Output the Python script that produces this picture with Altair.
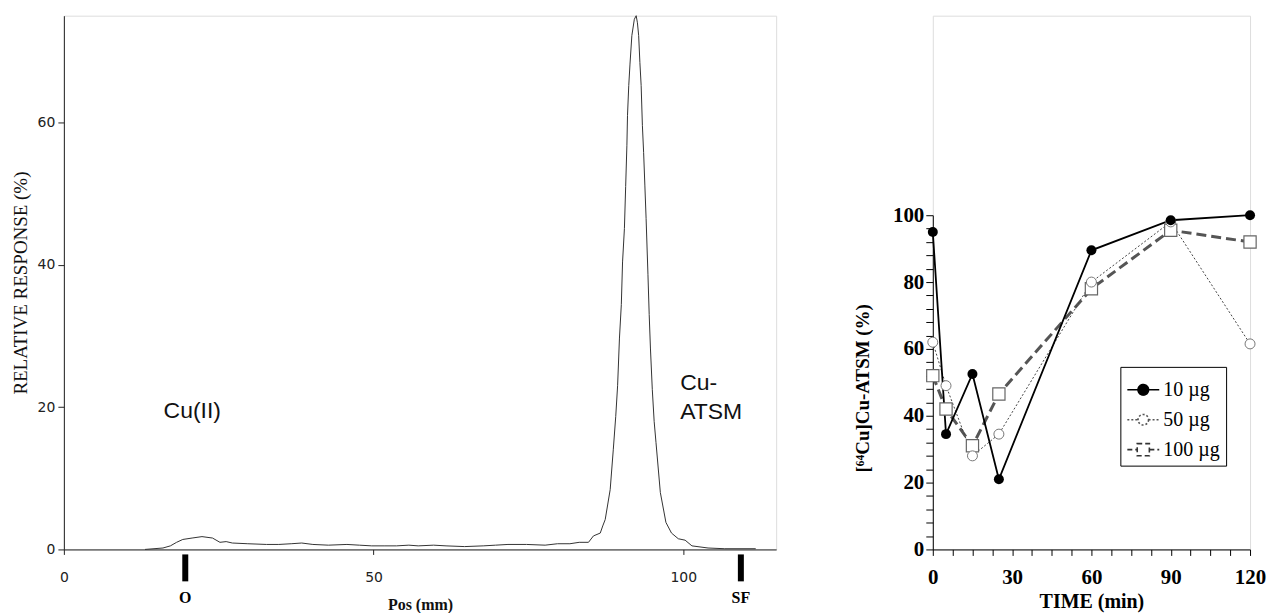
import altair as alt
import pandas as pd

# ---------------- Left panel: radio-TLC trace ----------------
pos_mm = [13.1, 16.0, 17.2, 18.2, 19.2, 20.7, 22.3, 24.0, 25.2, 26.2, 27.2, 29.7,
          32.7, 34.7, 36.7, 38.4, 40.2, 42.7, 45.7, 47.7, 49.7, 51.7, 53.7, 55.7,
          57.2, 59.7, 61.7, 64.7, 67.7, 69.7, 71.7, 74.7, 77.7, 79.7, 81.7, 83.2,
          84.7, 85.5, 86.6, 87.0, 87.4, 88.2, 88.7, 89.1, 89.4, 89.7, 90.0, 90.2,
          90.5, 90.7, 90.9, 91.0, 91.2, 91.4, 91.7, 92.1, 92.4, 92.6, 92.8, 93.0,
          93.2, 93.4, 93.6, 93.8, 94.0, 94.3, 94.5, 94.7, 95.0, 95.3, 95.6, 96.3,
          97.2, 98.1, 99.2, 100.3, 101.4, 104.0, 106.7, 111.7]
response = [0.0, 0.2, 0.5, 1.0, 1.4, 1.6, 1.8, 1.6, 1.0, 1.1, 0.9, 0.8,
            0.7, 0.7, 0.8, 0.9, 0.7, 0.6, 0.7, 0.6, 0.5, 0.5, 0.5, 0.6,
            0.5, 0.6, 0.5, 0.4, 0.5, 0.6, 0.7, 0.7, 0.6, 0.8, 0.8, 1.0,
            1.0, 1.9, 2.3, 3.3, 4.2, 8.4, 14.0, 18.7, 23.0, 29.7, 34.4, 40.4,
            45.1, 51.0, 56.8, 61.0, 65.2, 68.2, 72.2, 74.5, 75.0, 74.0, 72.2, 68.4,
            65.2, 59.6, 55.8, 51.2, 46.5, 38.6, 33.0, 28.3, 22.5, 18.0, 15.0, 8.0,
            3.8, 2.3, 1.5, 1.3, 0.5, 0.2, 0.1, 0.1]
marker_pos = [19.6, 109.3]
marker_lab = ["O", "SF"]
ann_text = ["Cu(II)", "Cu-", "ATSM"]
ann_pos = [16.1, 99.5, 99.5]
ann_val = [19.4, 23.4, 19.3]
left_xticks = [0, 50, 100]
left_yticks = [0, 20, 40, 60]

# ---------------- Right panel: time course ----------------
times = [0, 5, 15, 25, 60, 90, 120]
v10 = [95, 34.5, 52.5, 21, 89.5, 98.5, 100]
v50 = [62, 49, 28, 34.5, 80, 98, 61.5]
v100 = [52, 42, 31, 46.5, 78, 95.5, 92]
series = ["10 µg", "50 µg", "100 µg"]
right_xticks = [0, 7.5, 15, 22.5, 30, 37.5, 45, 52.5, 60, 67.5, 75, 82.5, 90,
                97.5, 105, 112.5, 120]
right_yticks = [0, 4, 8, 12, 16, 20, 24, 28, 32, 36, 40, 44, 48, 52, 56, 60,
                64, 68, 72, 76, 80, 84, 88, 92, 96, 100]

WL, H, WR = 714, 535, 318
SERIF = "Liberation Serif"

# ---- left chart ----
df_trace = pd.DataFrame({"pos": pos_mm, "resp": response})
df_mark = pd.DataFrame({"pos": marker_pos, "lab": marker_lab})
df_ann = pd.DataFrame({"pos": ann_pos, "resp": ann_val, "txt": ann_text})

xl = alt.X("pos:Q", scale=alt.Scale(domain=[0, 115], nice=False),
           axis=alt.Axis(values=left_xticks, title="Pos (mm)", grid=False,
                         domainColor="#222", tickColor="#222", tickSize=5,
                         labelFont="DejaVu Sans", labelFontSize=14, labelColor="#222",
                         labelPadding=16, labelFlush=False,
                         titleFont=SERIF, titleFontSize=16, titleFontWeight="bold",
                         titleColor="#111", titlePadding=12))
yl = alt.Y("resp:Q", scale=alt.Scale(domain=[0, 75], nice=False),
           axis=alt.Axis(values=left_yticks, title="RELATIVE RESPONSE (%)", grid=False,
                         domainColor="#222", tickColor="#222", tickSize=6,
                         labelFont="DejaVu Sans", labelFontSize=14, labelColor="#222",
                         labelPadding=3,
                         titleFont=SERIF, titleFontSize=19, titleFontWeight="normal",
                         titleColor="#111", titlePadding=7))

trace = alt.Chart(df_trace).mark_line(color="#333", strokeWidth=1).encode(x=xl, y=yl)
bars = alt.Chart(df_mark).mark_rule(color="black", strokeWidth=6).encode(
    x="pos:Q", y=alt.value(540), y2=alt.value(567))
bar_lab = alt.Chart(df_mark).mark_text(font=SERIF, fontSize=16, fontWeight="bold",
                                       baseline="middle", color="black").encode(
    x="pos:Q", y=alt.value(584), text="lab:N")
ann = alt.Chart(df_ann).mark_text(font="Liberation Sans", fontSize=23, align="left",
                                  baseline="middle", color="#111").encode(
    x="pos:Q", y="resp:Q", text="txt:N")

left = alt.layer(trace, bars, bar_lab, ann).properties(width=WL, height=H)

# ---- right chart ----
rows = []
for s, vals in zip(series, [v10, v50, v100]):
    for t, v in zip(times, vals):
        rows.append({"t": t, "v": v, "series": s})
df_r = pd.DataFrame(rows)

xr = alt.X("t:Q", scale=alt.Scale(domain=[0, 120], nice=False),
           axis=alt.Axis(values=right_xticks, labelExpr="datum.value % 30 == 0 ? datum.label : ''",
                         title="TIME (min)", grid=False, domainColor="black",
                         tickColor="black", tickSize=6, labelFont=SERIF, labelFontSize=21,
                         labelFontWeight="bold", labelColor="black", labelPadding=11,
                         labelFlush=False, labelOverlap=False,
                         titleFont=SERIF, titleFontSize=20, titleFontWeight="bold",
                         titleColor="black", titlePadding=4))
yr = alt.Y("v:Q", scale=alt.Scale(domain=[0, 100], nice=False, range=[H, H - 335]),
           axis=alt.Axis(values=right_yticks, labelExpr="datum.value % 20 == 0 ? datum.label : ''",
                         title="[⁶⁴Cu]Cu-ATSM (%)", grid=False, domainColor="black",
                         tickColor="black", tickSize=7, labelFont=SERIF, labelFontSize=21,
                         labelFontWeight="bold", labelColor="black", labelPadding=2,
                         labelOverlap=False, titleY=373,
                         titleFont=SERIF, titleFontSize=19, titleFontWeight="bold",
                         titleColor="black", titlePadding=20))

base = alt.Chart(df_r).encode(x=xr, y=yr)
f10 = alt.datum.series == series[0]
f50 = alt.datum.series == series[1]
f100 = alt.datum.series == series[2]

l10 = base.transform_filter(f10).mark_line(color="black", strokeWidth=1.8)
l50 = base.transform_filter(f50).mark_line(color="#444", strokeWidth=1, strokeDash=[2, 2])
l100 = base.transform_filter(f100).mark_line(color="#555", strokeWidth=3, strokeDash=[10, 5])
p100 = base.transform_filter(f100).mark_point(shape="square", size=150, filled=True,
                                              fill="white", stroke="#666", strokeWidth=1.2,
                                              opacity=1)
p50 = base.transform_filter(f50).mark_point(shape="circle", size=100, filled=True,
                                            fill="white", stroke="#777", strokeWidth=1,
                                            opacity=1)
p10 = base.transform_filter(f10).mark_point(shape="circle", size=100, filled=True,
                                            color="black", opacity=1)

circ = ("M-1,0L-0.33,0M0.33,0L1,0"
        "M0.33,0C0.33,0.182,0.182,0.33,0,0.33C-0.182,0.33,-0.33,0.182,-0.33,0"
        "C-0.33,-0.182,-0.182,-0.33,0,-0.33C0.182,-0.33,0.33,-0.182,0.33,0Z")
sq = "M-1,0L-0.38,0M0.38,0L1,0M-0.38,-0.38L0.38,-0.38L0.38,0.38L-0.38,0.38Z"

leg = base.mark_point(opacity=0, filled=True).encode(
    shape=alt.Shape("series:N", title=None,
                    scale=alt.Scale(domain=series, range=[circ, circ, sq]),
                    legend=alt.Legend(orient="none", legendX=1059, legendY=352,
                                      strokeColor="black", fillColor="white",
                                      padding=6, symbolSize=1024, symbolOpacity=1,
                                      symbolStrokeWidth=1.6, labelFont=SERIF,
                                      labelFontSize=20, labelColor="black",
                                      labelOffset=3, rowPadding=3)),
    fill=alt.Fill("series:N", title=None,
                  scale=alt.Scale(domain=series, range=["black", "white", "white"])),
    stroke=alt.Stroke("series:N", title=None,
                      scale=alt.Scale(domain=series, range=["black", "#555", "#333"])),
    strokeDash=alt.StrokeDash("series:N", title=None,
                              scale=alt.Scale(domain=series, range=[[1, 0], [2, 2], [5, 3]])),
)

right = alt.layer(l100, l50, l10, p100, p50, p10, leg).properties(width=WR, height=H)

chart = alt.hconcat(left, right, spacing=76).properties(
    padding={"left": 2, "top": 4, "right": 0, "bottom": 0}
).configure_view(stroke=None).configure(background="white")

chart.save("out.html", embed_options={"renderer": "svg", "actions": False})
